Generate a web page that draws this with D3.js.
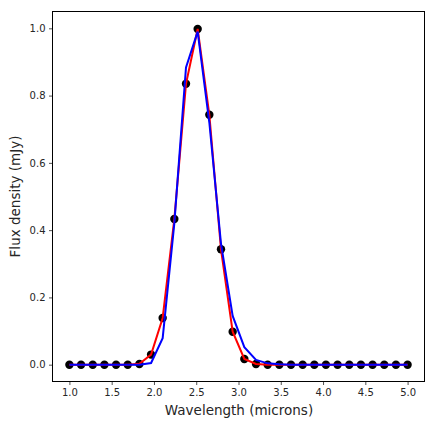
<!DOCTYPE html>
<html><head><meta charset="utf-8">
<script src="https://cdn.jsdelivr.net/npm/d3@7"></script>
<style>body{margin:0;background:#fff}svg{display:block}text{font-family:"DejaVu Sans",sans-serif}</style>
</head><body><svg id="c" width="435" height="425"></svg>
<script>
// wavelength grid: 30 samples from 1.0 to 5.0 microns
const wavelength = [1.000,1.138,1.276,1.414,1.552,1.690,1.828,1.966,2.103,2.241,2.379,2.517,2.655,2.793,2.931,3.069,3.207,3.345,3.483,3.621,3.759,3.897,4.034,4.172,4.310,4.448,4.586,4.724,4.862,5.000];
const observed = [0,0,0,0,0,0,0.002,0.030,0.139,0.433,0.835,0.998,0.743,0.343,0.098,0.017,0.002,0,0,0,0,0,0,0,0,0,0,0,0,0];
const fitRed  = [0,0,0,0,0,0,0.003,0.030,0.139,0.433,0.835,0.998,0.743,0.343,0.098,0.017,0.002,0,0,0,0,0,0,0,0,0,0,0,0,0];
const modelBlue = [0,0,0,0,0,0,0,0.005,0.079,0.42,0.884,0.99,0.72,0.36,0.145,0.052,0.014,0.004,0.001,0,0,0,0,0,0,0,0,0,0,0];
const xTicks = [1.0,1.5,2.0,2.5,3.0,3.5,4.0,4.5,5.0];
const yTicks = [0.0,0.2,0.4,0.6,0.8,1.0];

const svg = d3.select("#c");
const L = 52.5, R = 424.5, T = 11.5, B = 381.5;
const x = d3.scaleLinear().domain([0.8, 5.2]).range([L, R]);
const y = d3.scaleLinear().domain([-0.05, 1.05]).range([B, T]);

const col = "#262626";
const xAxis = svg.append("g").attr("transform", `translate(0,${B})`)
  .call(d3.axisBottom(x).tickValues(xTicks).tickFormat(d3.format(".1f")).tickSize(3.5).tickPadding(3.5));
const yAxis = svg.append("g").attr("transform", `translate(${L},0)`)
  .call(d3.axisLeft(y).tickValues(yTicks).tickFormat(d3.format(".1f")).tickSize(3.5).tickPadding(3.5));
[xAxis, yAxis].forEach(g => {
  g.select(".domain").remove();
  g.selectAll(".tick line").attr("stroke", col).attr("stroke-width", 0.8);
  g.selectAll(".tick text").attr("fill", col).style("font-size", "10px");
});

const data = wavelength.map((w, i) => ({w, o: observed[i], r: fitRed[i], b: modelBlue[i]}));

svg.append("g").selectAll("circle").data(data).join("circle")
  .attr("cx", d => x(d.w)).attr("cy", d => y(d.o)).attr("r", 4.2).attr("fill", "#000");

const lineR = d3.line().x(d => x(d.w)).y(d => y(d.r));
const lineB = d3.line().x(d => x(d.w)).y(d => y(d.b));
svg.append("path").datum(data).attr("d", lineR).attr("fill", "none").attr("stroke", "#ff0000").attr("stroke-width", 2);
svg.append("path").datum(data).attr("d", lineB).attr("fill", "none").attr("stroke", "#0000ff").attr("stroke-width", 2);

svg.append("rect").attr("x", L).attr("y", T).attr("width", R - L).attr("height", B - T)
  .attr("fill", "none").attr("stroke", "#000").attr("stroke-width", 1);

svg.append("text").attr("x", (L + R) / 2 + 0.5).attr("y", 414.5).attr("text-anchor", "middle")
  .attr("fill", col).style("font-size", "13.5px").text("Wavelength (microns)");
svg.append("text").attr("transform", `translate(19.5,${(T + B) / 2}) rotate(-90)`).attr("text-anchor", "middle")
  .attr("fill", col).style("font-size", "13.5px").text("Flux density (mJy)");
</script></body></html>
